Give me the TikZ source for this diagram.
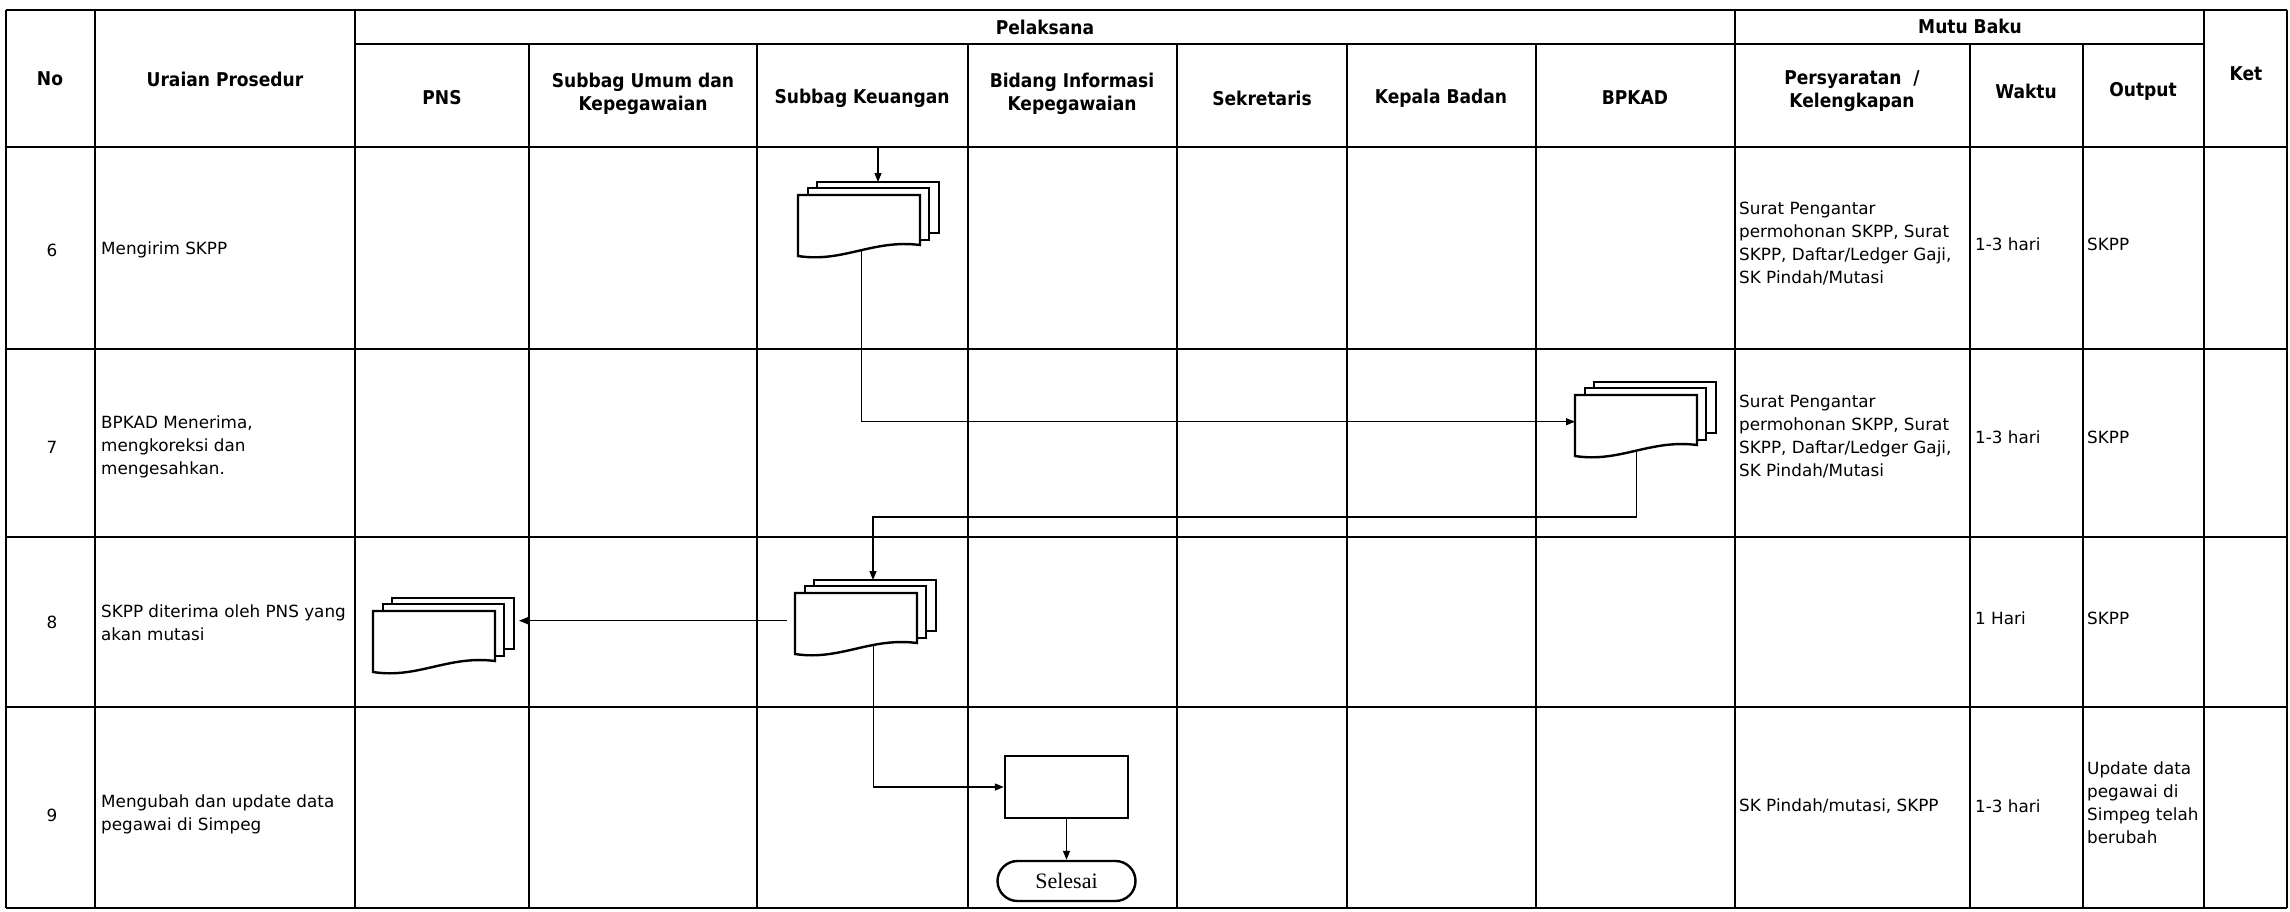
\documentclass[tikz,border=0pt]{standalone}
\usepackage{fontspec}
\setmainfont{DejaVu Sans}
\newfontfamily\hdrfont{DejaVu Sans Condensed Bold}
\newfontfamily\serfont{Liberation Serif}
\usetikzlibrary{arrows.meta,calc,shapes.misc}
\pgfdeclarelayer{bg}
\pgfsetlayers{bg,main}
\tikzset{
  gridline/.style={line width=1.4pt},
  hdr/.style={font=\hdrfont\fontsize{19}{23}\selectfont, align=center, inner sep=0pt},
  body/.style={font=\fontsize{16.8}{23}\selectfont, align=left, anchor=west, inner sep=0pt},
  num/.style={font=\fontsize{16.8}{23}\selectfont, inner sep=0pt},
  docbox/.style={minimum width=122pt, minimum height=61pt, inner sep=0pt, anchor=north west},
  docline/.style={line width=2.4pt, fill=white, line join=miter},
  arr/.style={line width=1.2pt, -{Triangle[length=9pt,width=7pt]}},
  procbox/.style={draw, line width=2.4pt, minimum width=123pt, minimum height=62pt, inner sep=0pt, fill=white},
  term/.style={draw, line width=2.4pt, rounded rectangle, minimum width=138pt, minimum height=40pt, inner sep=0pt, font=\serfont\fontsize{22}{24}\selectfont, fill=white},
}
\newcommand{\mdoc}[3]{%
  \node[docbox] (#1) at (#2,#3) {};
  \draw[docline] (#2+19,#3-13) rectangle (#2+141,#3+38);
  \draw[docline] (#2+10,#3-7) rectangle (#2+131,#3+45);
  \draw[docline] (#2,#3) -- (#2+122,#3) -- (#2+122,#3+50) .. controls (#2+75,#3+44) and (#2+45,#3+68) .. (#2,#3+61) -- cycle;
  \coordinate (#1t) at (#2+80,#3-13);
  \coordinate (#1r) at (#2+146,#3+20);
}
\begin{document}
\begin{tikzpicture}[x=1pt,y=-1pt]
\useasboundingbox (0,0) rectangle (2290,911);
% table grid
\foreach \yy in {10,147,349,537,707,908} \draw[gridline] (6,\yy) -- (2287,\yy);
\draw[gridline] (355,44) -- (2204,44);
\foreach \xx in {6,95,355,1735,2204,2287} \draw[gridline] (\xx,10) -- (\xx,908);
\foreach \xx in {529,757,968,1177,1347,1536,1970,2083} \draw[gridline] (\xx,44) -- (\xx,908);
% headers
\node[hdr] (hpel) at (1045,27) {Pelaksana};
\node[hdr] (hmutu) at (1970,26) {Mutu Baku};
\node[hdr] (hno) at (50,79) {No};
\node[hdr] (hur) at (225,79) {Uraian Prosedur};
\node[hdr] (hket) at (2246,74) {Ket};
\node[hdr] (hpns) at (442,98) {PNS};
\node[hdr] (hsum) at (643,94) {Subbag Umum dan\\Kepegawaian};
\node[hdr] (hkeu) at (862,98) {Subbag Keuangan};
\node[hdr] (hbik) at (1072,94) {Bidang Informasi\\Kepegawaian};
\node[hdr] (hsek) at (1262,98) {Sekretaris};
\node[hdr] (hkep) at (1441,98) {Kepala Badan};
\node[hdr] (hbpk) at (1635,98) {BPKAD};
\node[hdr] (hper) at (1852,91) {Persyaratan \ /\\Kelengkapan};
\node[hdr] (hwak) at (2026,91) {Waktu};
\node[hdr] (hout) at (2143,91) {Output};
% row 6
\node[num] (n6) at (52,250) {6};
\node[body] (u6) at (101,250) {Mengirim SKPP};
\node[body] (p6) at (1739,244) {Surat Pengantar\\permohonan SKPP, Surat\\SKPP, Daftar/Ledger Gaji,\\SK Pindah/Mutasi};
\node[body] (w6) at (1975,244) {1-3 hari};
\node[body] (o6) at (2087,244) {SKPP};
% row 7
\node[num] (n7) at (52,447) {7};
\node[body] (u7) at (101,447) {BPKAD Menerima,\\mengkoreksi dan\\mengesahkan.};
\node[body] (p7) at (1739,437) {Surat Pengantar\\permohonan SKPP, Surat\\SKPP, Daftar/Ledger Gaji,\\SK Pindah/Mutasi};
\node[body] (w7) at (1975,437) {1-3 hari};
\node[body] (o7) at (2087,437) {SKPP};
% row 8
\node[num] (n8) at (52,622) {8};
\node[body] (u8) at (101,623) {SKPP diterima oleh PNS yang\\akan mutasi};
\node[body] (w8) at (1975,618) {1 Hari};
\node[body] (o8) at (2087,618) {SKPP};
% row 9
\node[num] (n9) at (52,815) {9};
\node[body] (u9) at (101,814) {Mengubah dan update data\\pegawai di Simpeg};
\node[body] (p9) at (1739,806) {SK Pindah/mutasi, SKPP};
\node[body] (w9) at (1975,806) {1-3 hari};
\node[body] (o9) at (2087,803) {Update data\\pegawai di\\Simpeg telah\\berubah};
% flow shapes
\mdoc{d6}{798}{195}
\mdoc{d7}{1575}{395}
\mdoc{d8}{795}{593}
\mdoc{p8}{373}{611}
\node[procbox] (r9) at (1066.5,787) {};
\node[term] (end9) at (1066.5,881) {Selesai};
\coordinate (in6) at (878,147);
\coordinate (j78) at (873,517);
% connectors
\begin{pgfonlayer}{bg}
\draw[arr] (in6) -- (in6 |- d6t);
\draw[arr] ([xshift=2pt]d6.center) |- ([yshift=4pt]d7.west);
\draw[arr] (d7.center) |- (j78) -- (j78 |- d8t);
\draw[arr] ([xshift=-8pt,yshift=3pt]d8.west) -- ([yshift=3pt]p8r |- d8.west);
\draw[arr] ([xshift=17pt]d8.center) |- (r9.west);
\draw[arr] (r9.south) -- (end9.north);
\end{pgfonlayer}
\end{tikzpicture}
\end{document}
